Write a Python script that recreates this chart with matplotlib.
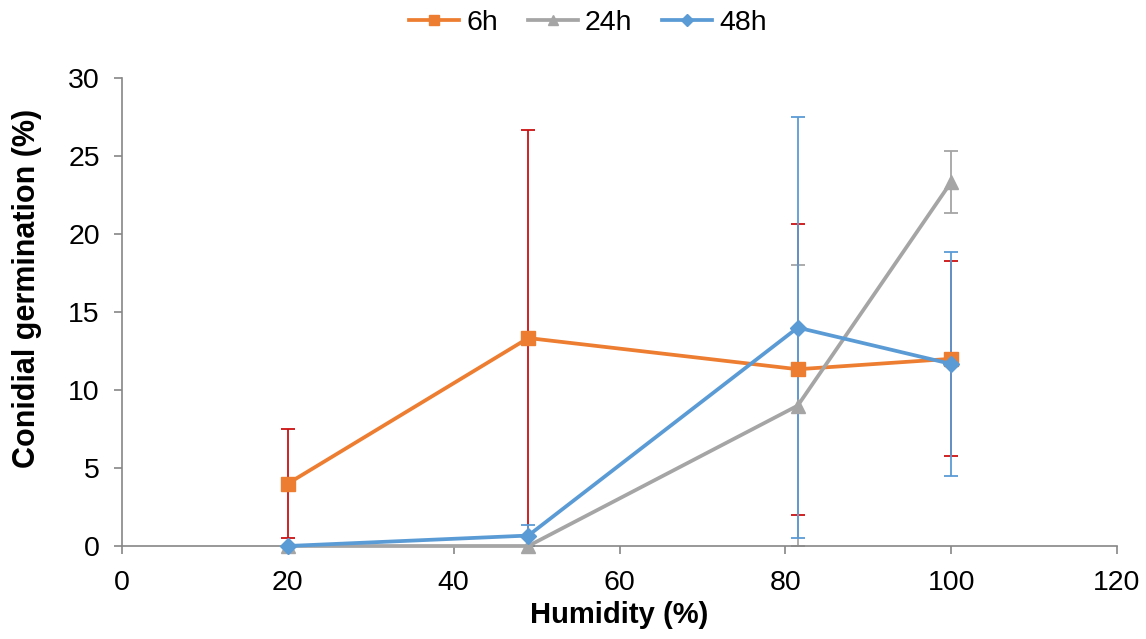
import matplotlib
matplotlib.use('Agg')
import matplotlib.pyplot as plt

plt.rcParams['font.family'] = ['Liberation Sans', 'DejaVu Sans']

# humidity levels (%)
humidity = [20, 49, 81.5, 100]

# conidial germination (%) per incubation time, with error bars
g6 = [4.0, 13.33, 11.33, 12.0]
e6 = [3.5, 13.33, 9.33, 6.25]
g24 = [0.0, 0.0, 9.0, 23.33]
e24 = [0.0, 0.0, 9.0, 2.0]
g48 = [0.0, 0.67, 14.0, 11.67]
e48 = [0.0, 0.67, 13.5, 7.17]

series = [
    ('6h', g6, e6, '#ED7D31', '#CC1111', 's', 10.5),
    ('24h', g24, e24, '#A5A5A5', '#A5A5A5', '^', 10.5),
    ('48h', g48, e48, '#5B9BD5', '#5B9BD5', 'D', 8.5),
]

fig = plt.figure(figsize=(11.46, 6.39), dpi=100)
ax = fig.add_axes([122 / 1146, 1 - 546 / 639, (1117 - 122) / 1146, (546 - 78) / 639])

handles = []
for name, y, err, col, ecol, mk, ms in series:
    ax.errorbar(humidity, y, yerr=err, fmt='none', ecolor=ecol, elinewidth=1.3,
                capsize=5, capthick=1.3, clip_on=False, zorder=2)
    h, = ax.plot(humidity, y, color=col, lw=2.7, marker=mk, ms=ms,
                 mfc=col, mec=col, clip_on=False, zorder=3, label=name)
    handles.append(h)

ax.set_xlim(0, 120)
ax.set_ylim(0, 30)
ax.set_xticks(range(0, 121, 20))
ax.set_yticks(range(0, 31, 5))

for s in ['top', 'right']:
    ax.spines[s].set_visible(False)
for s in ['left', 'bottom']:
    ax.spines[s].set_color('#868686')
    ax.spines[s].set_linewidth(1.2)
ax.tick_params(colors='#868686', labelcolor='black', labelsize=20.5, length=6, width=1.2)
ax.tick_params(axis='x', pad=11)
ax.tick_params(axis='y', pad=10)

ax.set_xlabel('Humidity (%)', fontsize=21, fontweight='bold', labelpad=4)
ax.set_ylabel('Conidial germination (%)', fontsize=22, fontweight='bold', va='center')
ax.yaxis.set_label_coords(-0.0955, 0.551)

fig.legend(handles=handles, loc='center', bbox_to_anchor=(588 / 1146, 1 - 23 / 639),
           ncol=3, frameon=False, fontsize=20.5, handlelength=1.75, handletextpad=0.25,
           columnspacing=1.05, markerscale=0.75)

fig.savefig('out.png', dpi=100)
